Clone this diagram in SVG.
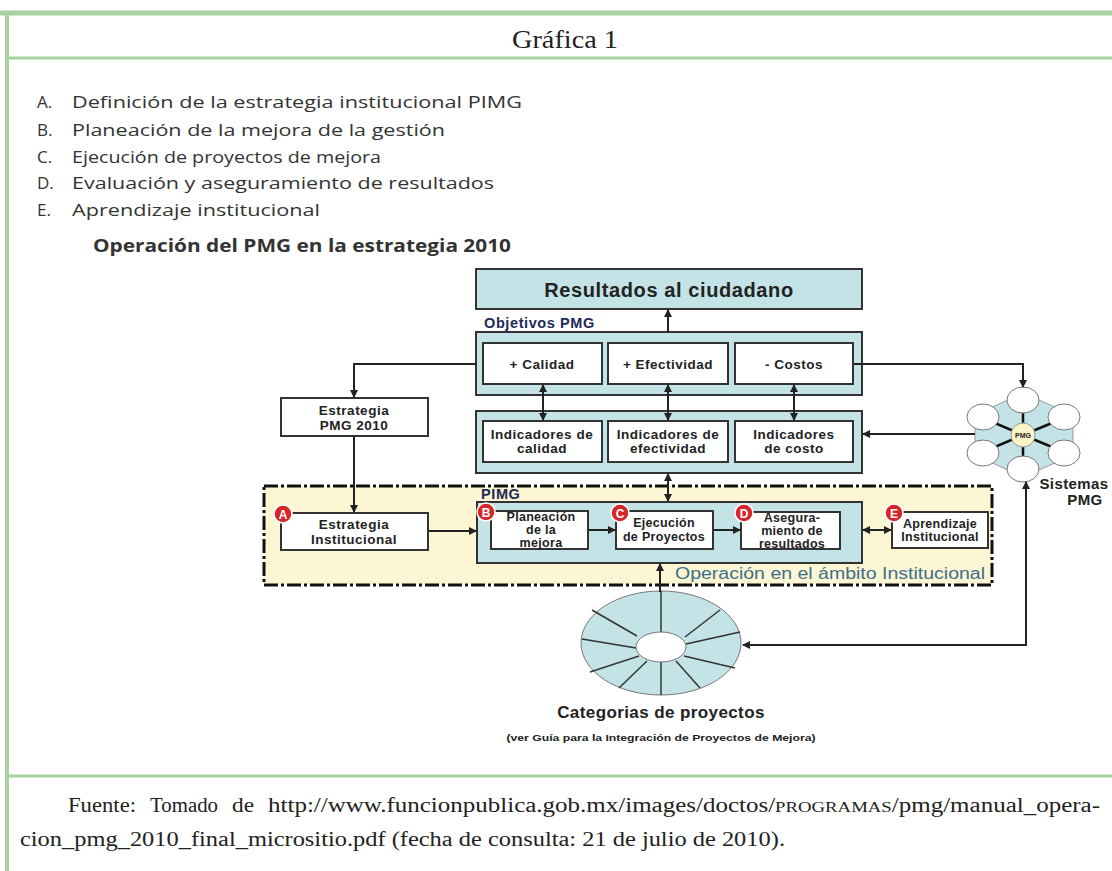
<svg xmlns="http://www.w3.org/2000/svg" width="1112" height="871" viewBox="0 0 1112 871">
<style>
.frame{stroke:#a6d39f;fill:none}
.list{font-family:"Open Sans","Noto Sans",sans-serif;font-size:17px;fill:#333}
.box{fill:#fff;stroke:#333;stroke-width:2}
.tbox{fill:#c4e3e6;stroke:#333;stroke-width:2}
.bt{font-family:"Liberation Sans",Arial,sans-serif;font-weight:bold;fill:#222;text-anchor:middle}
.m{font-size:13.5px;letter-spacing:0.5px}
.s{font-size:12.5px;letter-spacing:0.3px}
.con{fill:none;stroke:#222;stroke-width:2}
.badge{fill:#d6262a;stroke:#fff;stroke-width:1.5}
.bl{font-family:"Liberation Sans",Arial,sans-serif;font-weight:bold;font-size:12px;fill:#fff;text-anchor:middle}
.serif{font-family:"Liberation Serif","Times New Roman",serif;fill:#222}
.lab{font-family:"Liberation Sans",Arial,sans-serif;font-weight:bold;font-size:14.5px;fill:#1d2a5a;letter-spacing:0.6px}
</style>
<defs>
<marker id="ah" markerWidth="8" markerHeight="8" refX="7" refY="4" orient="auto-start-reverse" markerUnits="userSpaceOnUse">
<path d="M0,0 L8,4 L0,8 Z" fill="#222"/>
</marker>
</defs>
<rect width="1112" height="871" fill="#fff"/>
<g id="frame">
<line class="frame" x1="0" y1="13" x2="1112" y2="13" stroke-width="5"/>
<line class="frame" x1="7" y1="11" x2="7" y2="871" stroke-width="4"/>
<line class="frame" x1="5" y1="58" x2="1112" y2="58" stroke-width="3"/>
<line class="frame" x1="5" y1="776" x2="1112" y2="776" stroke-width="3"/>
<text class="serif" x="565" y="48" font-size="25" text-anchor="middle" textLength="106" lengthAdjust="spacingAndGlyphs">Gráfica 1</text>
</g>
<g id="list">
<text class="list" x="37" y="108">A.</text><text class="list" x="72" y="108" textLength="450" lengthAdjust="spacingAndGlyphs">Definición de la estrategia institucional PIMG</text>
<text class="list" x="37" y="136">B.</text><text class="list" x="72" y="136" textLength="373" lengthAdjust="spacingAndGlyphs">Planeación de la mejora de la gestión</text>
<text class="list" x="37" y="163">C.</text><text class="list" x="72" y="163" textLength="309" lengthAdjust="spacingAndGlyphs">Ejecución de proyectos de mejora</text>
<text class="list" x="37" y="189">D.</text><text class="list" x="72" y="189" textLength="422" lengthAdjust="spacingAndGlyphs">Evaluación y aseguramiento de resultados</text>
<text class="list" x="37" y="216">E.</text><text class="list" x="72" y="216" textLength="248" lengthAdjust="spacingAndGlyphs">Aprendizaje institucional</text>
<text class="list" x="93" y="252" font-weight="bold" fill="#111" textLength="418" lengthAdjust="spacingAndGlyphs">Operación del PMG en la estrategia 2010</text>
</g>
<g id="region-operacion">
<rect x="264" y="486" width="728" height="99" fill="#fcf6d4" stroke="#111" stroke-width="3" stroke-dasharray="14 3 3 3"/>
<text class="lab" x="481" y="499">PIMG</text>
<text x="985" y="579" text-anchor="end" font-family="Liberation Sans,Arial,sans-serif" font-size="16" fill="#3e6e8a" textLength="310" lengthAdjust="spacingAndGlyphs">Operación en el ámbito Institucional</text>
</g>
<g id="resultados">
<rect class="tbox" x="476" y="269" width="386" height="40"/>
<text class="bt" x="669" y="297" style="font-size:20px;letter-spacing:0.6px">Resultados al ciudadano</text>
</g>
<g id="objetivos">
<text class="lab" x="484" y="328">Objetivos PMG</text>
<rect class="tbox" x="476" y="332" width="386" height="63"/>
<rect class="box" x="483" y="343" width="119" height="41"/>
<text class="bt m" x="542" y="369">+ Calidad</text>
<rect class="box" x="608" y="343" width="120" height="41"/>
<text class="bt m" x="668" y="369">+ Efectividad</text>
<rect class="box" x="735" y="343" width="118" height="41"/>
<text class="bt m" x="794" y="369">- Costos</text>
</g>
<g id="indicadores">
<rect class="tbox" x="476" y="411" width="386" height="62"/>
<rect class="box" x="483" y="421" width="119" height="41"/>
<text class="bt m" x="542" y="439">Indicadores de</text><text class="bt m" x="542" y="453">calidad</text>
<rect class="box" x="608" y="421" width="120" height="41"/>
<text class="bt m" x="668" y="439">Indicadores de</text><text class="bt m" x="668" y="453">efectividad</text>
<rect class="box" x="735" y="421" width="118" height="41"/>
<text class="bt m" x="794" y="439">Indicadores</text><text class="bt m" x="794" y="453">de costo</text>
</g>
<g id="estrategia-pmg">
<rect class="box" x="281" y="398" width="147" height="38"/>
<text class="bt m" x="354" y="415">Estrategia</text><text class="bt m" x="354" y="430">PMG 2010</text>
</g>
<g id="estrategia-inst">
<rect class="box" x="281" y="513" width="147" height="37"/>
<text class="bt m" x="354" y="529">Estrategia</text><text class="bt m" x="354" y="544">Institucional</text>
<circle class="badge" cx="283" cy="514" r="9"/><text class="bl" x="283" y="518.5">A</text>
</g>
<g id="pimg">
<rect class="tbox" x="477" y="502" width="385" height="61"/>
</g>
<g id="planeacion">
<rect class="box" x="491" y="511" width="97" height="38"/>
<text class="bt s" x="541" y="521">Planeación</text><text class="bt s" x="541" y="534">de la</text><text class="bt s" x="541" y="547">mejora</text>
<circle class="badge" cx="486" cy="512" r="9"/><text class="bl" x="486" y="516.5">B</text>
</g>
<g id="ejecucion">
<rect class="box" x="616" y="511" width="97" height="38"/>
<text class="bt s" x="664" y="527">Ejecución</text><text class="bt s" x="664" y="541">de Proyectos</text>
<circle class="badge" cx="620" cy="513" r="9"/><text class="bl" x="620" y="517.5">C</text>
</g>
<g id="aseguramiento">
<rect class="box" x="741" y="512" width="99" height="37"/>
<text class="bt s" x="792" y="522">Asegura-</text><text class="bt s" x="792" y="535">miento de</text><text class="bt s" x="792" y="548">resultados</text>
<circle class="badge" cx="744" cy="513" r="9"/><text class="bl" x="744" y="517.5">D</text>
</g>
<g id="aprendizaje">
<rect class="box" x="892" y="512" width="96" height="36"/>
<text class="bt s" x="940" y="528">Aprendizaje</text><text class="bt s" x="940" y="541">Institucional</text>
<circle class="badge" cx="894" cy="513" r="9"/><text class="bl" x="894" y="517.5">E</text>
</g>
<g id="sistemas">
<polygon points="1023,393 1073,415 1073,455 1023,477 975,455 975,415" fill="#c4e3e6" stroke="#999" stroke-width="1"/>
<g stroke="#111" stroke-width="2.5">
<line x1="1023" y1="435" x2="1023" y2="401"/><line x1="1023" y1="435" x2="1023" y2="468"/>
<line x1="1023" y1="435" x2="983" y2="418"/><line x1="1023" y1="435" x2="1064" y2="418"/>
<line x1="1023" y1="435" x2="983" y2="452"/><line x1="1023" y1="435" x2="1064" y2="452"/>
</g>
<g fill="#fff" stroke="#777" stroke-width="1">
<ellipse cx="1023" cy="400" rx="16" ry="13"/><ellipse cx="1023" cy="469" rx="16" ry="13"/>
<ellipse cx="983" cy="417" rx="16" ry="13"/><ellipse cx="1064" cy="417" rx="16" ry="13"/>
<ellipse cx="983" cy="453" rx="16" ry="13"/><ellipse cx="1064" cy="453" rx="16" ry="13"/>
</g>
<circle cx="1023" cy="435" r="12" fill="#fcf3c6" stroke="#999" stroke-width="1"/>
<text class="bt" x="1023" y="438" style="font-size:7px">PMG</text>
<text class="bt" x="1074" y="489" style="font-size:15px;letter-spacing:0.4px">Sistemas</text>
<text class="bt" x="1085" y="505" style="font-size:15px;letter-spacing:0.4px">PMG</text>
</g>
<g id="categorias">
<ellipse cx="661" cy="643" rx="80" ry="52" fill="#c4e3e6" stroke="#777" stroke-width="1"/>
<g stroke="#333" stroke-width="1.5">
<line x1="661" y1="591" x2="661" y2="632"/><line x1="661" y1="662" x2="661" y2="695"/>
<line x1="637" y1="636" x2="592" y2="610"/><line x1="636" y1="648" x2="582" y2="639"/>
<line x1="639" y1="656" x2="590" y2="672"/><line x1="647" y1="661" x2="619" y2="688"/>
<line x1="685" y1="637" x2="720" y2="610"/><line x1="686" y1="644" x2="740" y2="632"/>
<line x1="684" y1="656" x2="735" y2="668"/><line x1="676" y1="661" x2="700" y2="688"/>
</g>
<ellipse cx="661" cy="647" rx="25" ry="15" fill="#fff" stroke="#777" stroke-width="1"/>
<text class="bt" x="661" y="718" style="font-size:17px;letter-spacing:0.4px">Categorias de proyectos</text>
<text class="bt" x="661" y="741" style="font-size:8.5px" textLength="309" lengthAdjust="spacingAndGlyphs">(ver Guía para la Integración de Proyectos de Mejora)</text>
</g>
<g id="connectors">
<line class="con" x1="668" y1="332" x2="668" y2="310" marker-end="url(#ah)"/>
<line class="con" x1="543" y1="385" x2="543" y2="420" marker-start="url(#ah)" marker-end="url(#ah)"/>
<line class="con" x1="668" y1="385" x2="668" y2="420" marker-start="url(#ah)" marker-end="url(#ah)"/>
<line class="con" x1="794" y1="385" x2="794" y2="420" marker-start="url(#ah)" marker-end="url(#ah)"/>
<line class="con" x1="668" y1="474" x2="668" y2="501" marker-start="url(#ah)" marker-end="url(#ah)"/>
<path class="con" d="M476,364 H354 V397" marker-end="url(#ah)"/>
<path class="con" d="M354,437 V512" marker-end="url(#ah)"/>
<line class="con" x1="429" y1="531" x2="476" y2="531" marker-end="url(#ah)"/>
<line class="con" x1="589" y1="530" x2="615" y2="530" marker-end="url(#ah)"/>
<line class="con" x1="714" y1="530" x2="740" y2="530" marker-end="url(#ah)"/>
<line class="con" x1="863" y1="530" x2="891" y2="530" marker-start="url(#ah)" marker-end="url(#ah)"/>
<line class="con" x1="660" y1="592" x2="660" y2="564" marker-end="url(#ah)"/>
<path class="con" d="M854,364 H1023 V387" marker-end="url(#ah)"/>
<line class="con" x1="975" y1="434" x2="863" y2="434" marker-end="url(#ah)"/>
<path class="con" d="M1026,482 V645 H743" marker-start="url(#ah)" marker-end="url(#ah)"/>
</g>
<g id="fuente">
<text class="serif" x="68" y="812" font-size="20" textLength="68" lengthAdjust="spacingAndGlyphs">Fuente:</text>
<text class="serif" x="150" y="812" font-size="20" textLength="68" lengthAdjust="spacingAndGlyphs">Tomado</text>
<text class="serif" x="232" y="812" font-size="20" textLength="22" lengthAdjust="spacingAndGlyphs">de</text>
<text class="serif" x="268" y="812" font-size="20" textLength="832" lengthAdjust="spacingAndGlyphs">http://www.funcionpublica.gob.mx/images/doctos/<tspan font-size="15">PROGRAMAS</tspan>/pmg/manual_opera-</text>
<text class="serif" x="20" y="846" font-size="20" textLength="765" lengthAdjust="spacingAndGlyphs">cion_pmg_2010_final_micrositio.pdf (fecha de consulta: 21 de julio de 2010).</text>
</g>
</svg>
